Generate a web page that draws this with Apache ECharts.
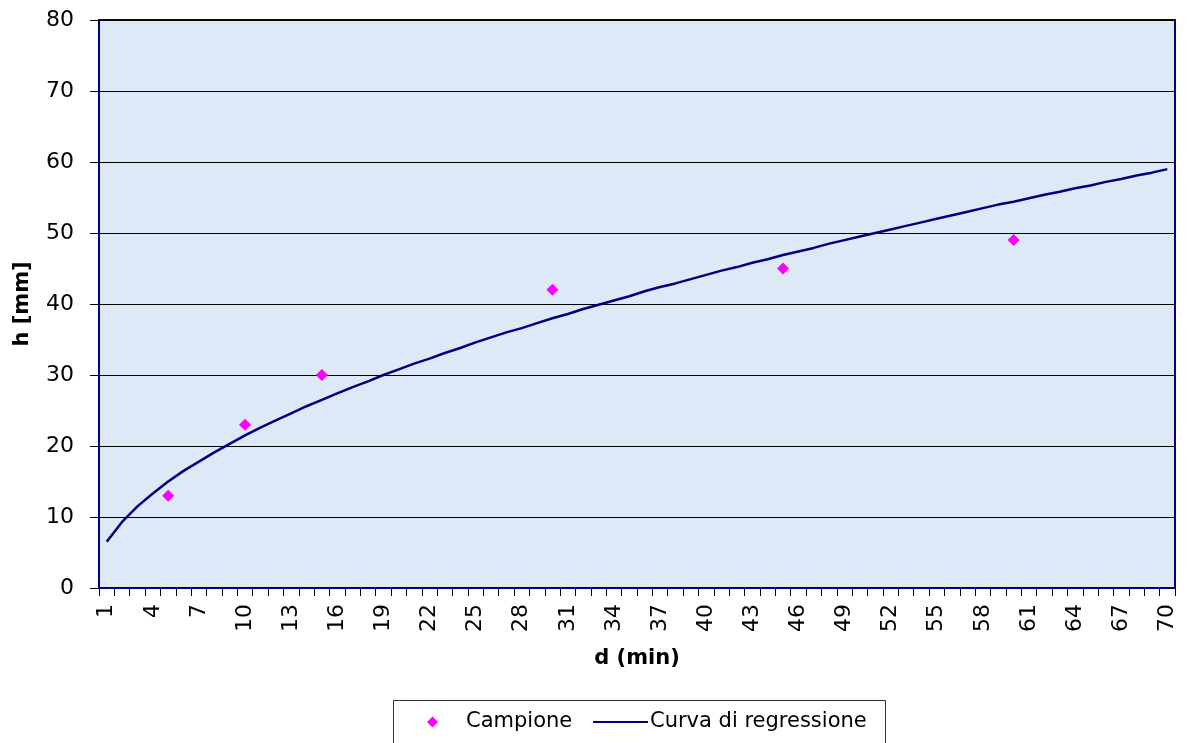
<!DOCTYPE html>
<html>
<head>
<meta charset="utf-8">
<script src="https://cdn.jsdelivr.net/npm/echarts@6/dist/echarts.min.js"></script>
<style>
  html, body { margin: 0; padding: 0; background: #ffffff; }
  #chart { width: 1193px; height: 743px; }
</style>
</head>
<body>
<div id="chart"></div>
<script>
// Duration axis: 1 … 70 minutes
const minutes = Array.from({ length: 70 }, (_, i) => String(i + 1));

// Measured rainfall depths (campione)
const sampleD = [5, 10, 15, 30, 45, 60];
const sampleH = [13, 23, 30, 42, 45, 49];

// Regression curve h(d), one value per minute
const curveH = [
  6.5, 9.3, 11.5, 13.3, 15.0, 16.5, 17.8, 19.1, 20.3, 21.5,
  22.6, 23.6, 24.6, 25.6, 26.5, 27.4, 28.3, 29.1, 30.0, 30.8,
  31.6, 32.3, 33.1, 33.8, 34.6, 35.3, 36.0, 36.6, 37.3, 38.0,
  38.6, 39.3, 39.9, 40.5, 41.1, 41.8, 42.4, 42.9, 43.5, 44.1,
  44.7, 45.2, 45.8, 46.3, 46.9, 47.4, 47.9, 48.5, 49.0, 49.5,
  50.0, 50.5, 51.0, 51.5, 52.0, 52.5, 53.0, 53.5, 54.0, 54.4,
  54.9, 55.4, 55.8, 56.3, 56.7, 57.2, 57.6, 58.1, 58.5, 59.0
];

// Y axis range
const yMin = 0, yMax = 80, yStep = 10;

const FONT = '"DejaVu Sans", "Liberation Sans", Arial, sans-serif';
const NAVY = '#000080';
const MAGENTA = '#ff00ff';

const legendText = { fontFamily: FONT, fontSize: 21, color: '#000000', lineHeight: 24 };

const chart = echarts.init(document.getElementById('chart'), null, { renderer: 'canvas' });

chart.setOption({
  animation: false,
  backgroundColor: '#ffffff',
  textStyle: { fontFamily: FONT },
  grid: {
    left: 99, right: 18, top: 20, bottom: 155,
    show: true,
    backgroundColor: '#dde9f6',
    borderColor: NAVY,
    borderWidth: 2
  },
  // frame around the two legend entries
  graphic: [{
    type: 'rect',
    left: 393, top: 700,
    shape: { width: 492, height: 60 },
    style: { fill: '#ffffff', stroke: '#333333', lineWidth: 1 },
    z: -1
  }],
  legend: [
    {
      left: 427, top: 710,
      itemWidth: 11, itemHeight: 11,
      padding: 0,
      textStyle: Object.assign({ padding: [0, 0, 0, 23] }, legendText),
      data: [{ name: 'Campione', icon: 'diamond' }]
    },
    {
      left: 593, top: 710,
      itemWidth: 55, itemHeight: 2,
      padding: 0,
      textStyle: Object.assign({ padding: [0, 0, 0, -3] }, legendText),
      data: [{ name: 'Curva di regressione', icon: 'rect' }]
    }
  ],
  xAxis: {
    type: 'category',
    data: minutes,
    boundaryGap: true,
    name: 'd (min)',
    nameLocation: 'middle',
    nameGap: 60,
    nameTextStyle: { fontFamily: FONT, fontSize: 21, fontWeight: 'bold', color: '#000000' },
    axisLine: { show: true, lineStyle: { color: NAVY, width: 2 } },
    axisTick: { show: true, interval: 0, alignWithLabel: false, length: 8, lineStyle: { color: '#000000', width: 1 } },
    axisLabel: { interval: 2, rotate: 90, margin: 16, fontFamily: FONT, fontSize: 22, color: '#000000' },
    splitLine: { show: false }
  },
  yAxis: {
    type: 'value',
    min: yMin, max: yMax, interval: yStep,
    name: 'h [mm]',
    nameLocation: 'middle',
    nameRotate: 90,
    nameGap: 66,
    nameTextStyle: { fontFamily: FONT, fontSize: 21, fontWeight: 'bold', color: '#000000' },
    axisLine: { show: true, lineStyle: { color: NAVY, width: 2 } },
    axisTick: { show: true, length: 9, lineStyle: { color: '#000000', width: 1 } },
    axisLabel: { margin: 25, fontFamily: FONT, fontSize: 22, color: '#000000' },
    splitLine: { show: true, lineStyle: { color: '#000000', width: 1 } }
  },
  series: [
    {
      name: 'Curva di regressione',
      type: 'line',
      data: curveH,
      symbol: 'none',
      smooth: false,
      lineStyle: { color: NAVY, width: 2.5 },
      itemStyle: { color: NAVY },
      z: 3
    },
    {
      name: 'Campione',
      type: 'scatter',
      data: sampleD.map((d, i) => [String(d), sampleH[i]]),
      symbol: 'diamond',
      symbolSize: 12,
      itemStyle: { color: MAGENTA, opacity: 1 },
      z: 4
    }
  ]
});
</script>
</body>
</html>
